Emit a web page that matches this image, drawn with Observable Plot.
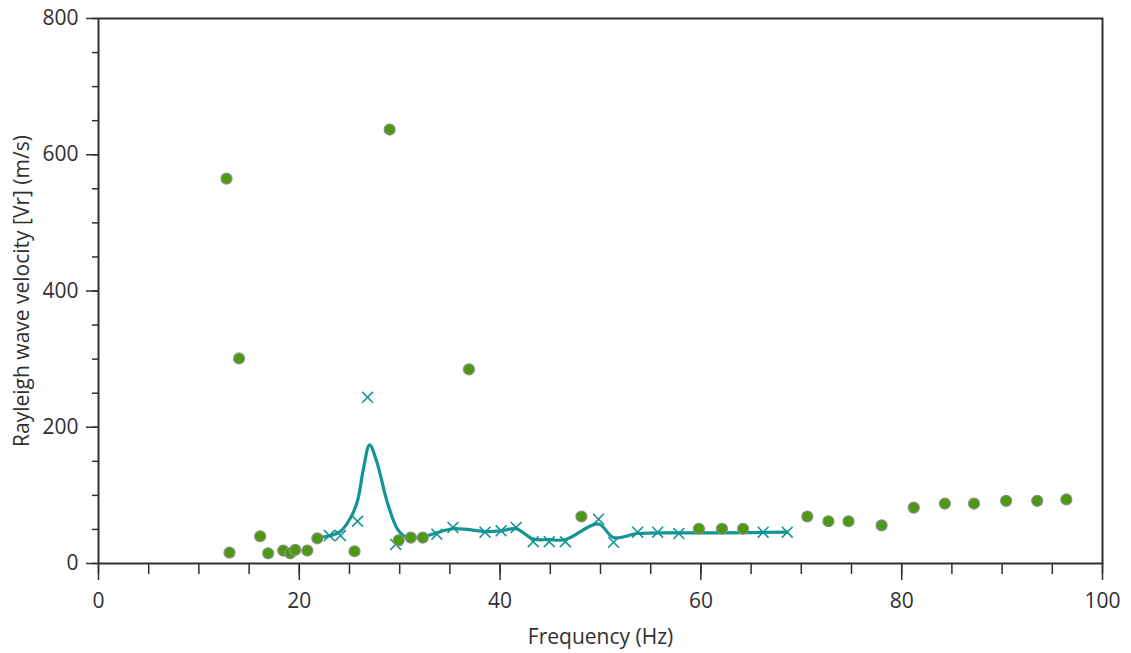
<!DOCTYPE html>
<html>
<head>
<meta charset="utf-8">
<script src="https://cdn.jsdelivr.net/npm/d3@7"></script>
<script src="https://cdn.jsdelivr.net/npm/@observablehq/plot@0.6"></script>
<style>
  html, body { margin: 0; padding: 0; background: #fff; }
  #chart svg { display: block; }
</style>
</head>
<body>
<div id="chart"></div>
<script>
// Measured dispersion points (green)
const measFreq = [12.75, 13.05, 14.0, 16.1, 16.9, 18.4, 19.1, 19.6, 20.8, 21.8, 25.5, 29.0, 29.9, 31.1, 32.3, 36.9, 48.1, 59.8, 62.1, 64.2, 70.6, 72.7, 74.7, 78.0, 81.2, 84.3, 87.2, 90.4, 93.5, 96.4];
const measVel  = [565, 16, 301, 40, 15, 19, 15, 20, 19, 37, 18, 637, 34, 38, 38, 285, 69, 51, 51, 51, 69, 62, 62, 56, 82, 88, 88, 92, 92, 94];

// Picked points (teal crosses)
const pickFreq = [23.0, 24.1, 25.8, 26.8, 29.6, 33.7, 35.3, 38.5, 40.1, 41.6, 43.3, 44.9, 46.5, 49.8, 51.3, 53.7, 55.7, 57.8, 66.2, 68.6];
const pickVel  = [41, 41, 62, 244, 28, 43, 53, 46, 48, 53, 32, 32, 32, 65, 31, 46, 46, 44, 46, 46];

// Smoothed dispersion curve (teal line)
const curveFreq = [22.0, 24.0, 25.1, 25.8, 26.4, 27.0, 27.7, 28.8, 29.8, 30.6, 32.5, 35.3, 38.5, 40.1, 41.6, 43.3, 44.9, 46.5, 49.8, 51.3, 53.7, 57.8, 62.0, 68.6];
const curveVel  = [38, 46, 67, 92, 140, 174, 150, 88, 50, 39, 40, 51, 47, 48, 51, 36, 35, 35, 58, 38, 44, 45, 45, 46];

const xMajor = [0, 20, 40, 60, 80, 100];
const xMinor = d3.range(0, 101, 5);
const yMajor = [0, 200, 400, 600, 800];
const yMinor = d3.range(0, 801, 50);

const meas = measFreq.map((f, i) => ({f, v: measVel[i]}));
const picks = pickFreq.map((f, i) => ({f, v: pickVel[i]}));
const curve = curveFreq.map((f, i) => ({f, v: curveVel[i]}));

const ink = "#303030";
const teal = "#169494";
const green = "#4c9a10";

const chart = Plot.plot({
  width: 1131,
  height: 653,
  marginLeft: 98,
  marginRight: 29,
  marginTop: 18,
  marginBottom: 90,
  style: {fontFamily: "'Open Sans', sans-serif", fontSize: "21px", color: ink, background: "#fff"},
  x: {domain: [0, 100]},
  y: {domain: [0, 800]},
  marks: [
    Plot.axisX({ticks: xMinor, tickSize: 11, tickFormat: () => "", stroke: ink, strokeWidth: 1.5, label: null}),
    Plot.axisX({ticks: xMajor, tickSize: 17, tickPadding: 13, stroke: ink, strokeWidth: 1.5,
      label: "Frequency (Hz)", labelAnchor: "center", labelArrow: "none", labelOffset: 80, fill: ink}),
    Plot.axisY({ticks: yMinor, tickSize: 6, tickFormat: () => "", stroke: ink, strokeWidth: 1.5, label: null}),
    Plot.axisY({ticks: yMajor, tickSize: 12, tickPadding: 8, stroke: ink, strokeWidth: 1.5,
      label: "Rayleigh wave velocity [Vr] (m/s)", labelAnchor: "center", labelArrow: "none", labelOffset: 84, fill: ink}),
    Plot.frame({stroke: ink, strokeWidth: 2}),
    Plot.line(curve, {x: "f", y: "v", stroke: teal, strokeWidth: 3.2, curve: "catmull-rom"}),
    Plot.dot(picks, {x: "f", y: "v", symbol: "times", r: 5, stroke: teal, strokeWidth: 1.6}),
    Plot.dot(meas, {x: "f", y: "v", r: 5.5, fill: green, stroke: "#8d8d8d", strokeWidth: 1.2})
  ]
});
document.getElementById("chart").appendChild(chart);
</script>
</body>
</html>
